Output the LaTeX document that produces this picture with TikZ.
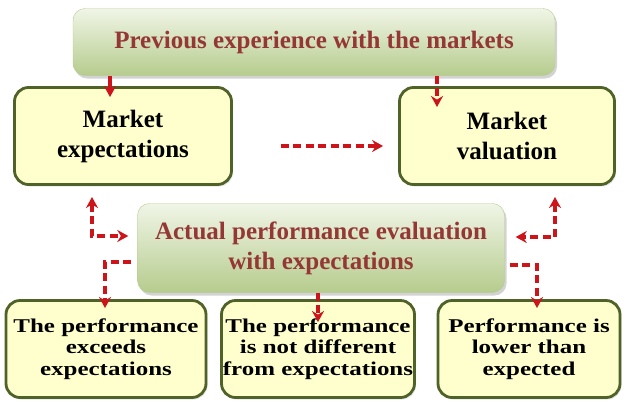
\documentclass[tikz,border=0pt]{standalone}
\usepackage{fontspec}
\setmainfont{Liberation Serif}
\newfontfamily\widefont{Liberation Serif}[FakeStretch=1.28]
\usetikzlibrary{arrows.meta,shadows}
\definecolor{arrowred}{RGB}{204,20,26}
\definecolor{textred}{RGB}{149,55,53}
\definecolor{boxyellow}{RGB}{255,255,206}
\definecolor{boxline}{RGB}{79,98,40}
\definecolor{greenlight}{RGB}{240,245,230}
\definecolor{greendark}{RGB}{182,204,142}

\begin{document}
\begin{tikzpicture}[x=1pt,y=-1pt,
    greenbox/.style={rounded corners=12pt, top color=greenlight, bottom color=greendark,
      draw=greendark, thin, drop shadow={opacity=0.35,shadow xshift=2pt,shadow yshift=-3pt},
      text=textred, font=\fontsize{25}{30}\selectfont\bfseries, align=center, inner sep=0pt},
    yellowbox/.style={rounded corners=14pt, fill=boxyellow, draw=boxline, line width=2.8pt,
      drop shadow={opacity=0.2,shadow xshift=1.5pt,shadow yshift=-2pt},
      align=center, inner sep=0pt, minimum height=97pt},
    redarrow/.style={draw=arrowred, line width=3.2pt, -{Stealth[length=11pt,width=12pt]}},
    bothred/.style={redarrow, {Stealth[length=11pt,width=12pt]}-{Stealth[length=11pt,width=12pt]}},
    reddash/.style={dash pattern=on 8pt off 4.5pt}]
    \useasboundingbox (0,0) rectangle (626,405);
    % boxes
    \node[greenbox, minimum width=482pt, minimum height=67pt] (prev) at (314,42) {Previous experience with the markets};
    \node[yellowbox, minimum width=217pt, font=\fontsize{25}{30}\selectfont\bfseries] (mexp) at (123,136) {Market\\expectations};
    \node[yellowbox, minimum width=215pt, font=\fontsize{25}{30}\selectfont\bfseries] (mval) at (507,136) {Market\\valuation};
    \node[greenbox, minimum width=367pt, minimum height=89pt] (actual) at (321,248) {Actual performance evaluation\\with expectations};
    \node[yellowbox, minimum width=200pt, font=\widefont\fontsize{19.5}{21.5}\selectfont\bfseries] (exceed) at (106,349) {The performance\\exceeds\\expectations};
    \node[yellowbox, minimum width=193pt, font=\widefont\fontsize{19.5}{21.5}\selectfont\bfseries] (same) at (318,349) {The performance\\is not different\\from expectations};
    \node[yellowbox, minimum width=182pt, font=\widefont\fontsize{19.5}{21.5}\selectfont\bfseries] (lower) at (529,349) {Performance is\\lower than\\expected};
    % free ends of the arrows
    \coordinate (t1) at (110,97);
    \coordinate (t2) at (437,107);
    \coordinate (lu) at (92,197);
    \coordinate (ll) at (105,308);
    \coordinate (mm) at (318,322);
    \coordinate (ru) at (555,197);
    \coordinate (rl) at (537,308);
    % arrows
    \draw[redarrow] (prev.south -| t1) -- (t1);
    \draw[redarrow,reddash] (prev.south -| t2) -- (t2);
    \draw[redarrow,reddash,shorten <=48pt,shorten >=15pt] ([yshift=-10pt]mexp.east) -- ([yshift=-10pt]mval.west);
    \draw[bothred,reddash] (lu) |- ([xshift=-9pt,yshift=12pt]actual.west);
    \draw[redarrow,reddash] ([xshift=-6pt,yshift=-14pt]actual.west) -| (ll);
    \draw[redarrow,reddash] (actual.south -| mm) -- (mm);
    \draw[bothred,reddash] (ru) |- ([xshift=11pt,yshift=11pt]actual.east);
    \draw[redarrow,reddash] ([xshift=5pt,yshift=-17pt]actual.east) -| (rl);
\end{tikzpicture}
\end{document}
